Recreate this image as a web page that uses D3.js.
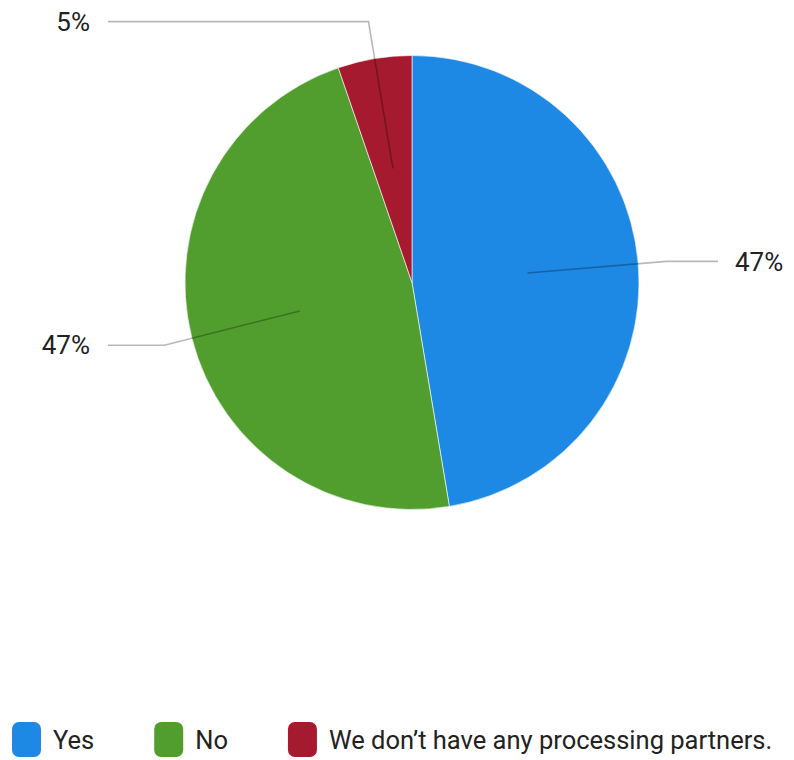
<!DOCTYPE html>
<html>
<head>
<meta charset="utf-8">
<script src="https://cdn.jsdelivr.net/npm/d3@7"></script>
<style>
  html, body { margin: 0; padding: 0; background: #fff; }
  svg { display: block; }
  text { font-family: Roboto, "Liberation Sans", Arial, sans-serif; fill: #222; }
</style>
</head>
<body>
<svg id="chart" width="794" height="760"></svg>
<script>
// Survey answers: does the company have processing partners?
const categories = ["Yes", "No", "We don\u2019t have any processing partners."];
const responses = [9, 9, 1];
const colors = ["#1e88e5", "#519e2f", "#a51a2e"];

const width = 794, height = 760;
const cx = 412, cy = 282.5, radius = 227;

const svg = d3.select("#chart");
const total = d3.sum(responses);
const data = categories.map((c, i) => ({ name: c, value: responses[i], color: colors[i] }));

const pie = d3.pie().value(d => d.value).sort(null);
const arcs = pie(data);
const arc = d3.arc().innerRadius(0).outerRadius(radius);

const g = svg.append("g").attr("transform", `translate(${cx},${cy})`);

g.selectAll("path.slice")
  .data(arcs)
  .join("path")
  .attr("class", "slice")
  .attr("d", arc)
  .attr("fill", d => d.data.color)
  .attr("stroke", "#ffffff")
  .attr("stroke-width", 0.6);

// Leader lines: from inside the slice, out past the rim, then horizontally to the label
const fmt = v => Math.round(v / total * 100) + "%";
const point = (a, r) => [Math.sin(a) * r, -Math.cos(a) * r];

arcs.forEach(d => {
  const mid = (d.startAngle + d.endAngle) / 2;
  const right = Math.sin(mid) > 0;
  // labels near the top of the pie sit a little further out
  const nearTop = Math.cos(mid) > 0.85;
  const p0 = point(mid, radius * 0.51);
  const p1 = point(mid, radius * (nearTop ? 1.165 : 1.125));
  const xEnd = right ? 306 : -304;
  const xText = right ? 323 : -322;

  g.append("path")
    .attr("d", d3.line()([p0, p1, [xEnd, p1[1]]]))
    .attr("fill", "none")
    .attr("stroke", "#000")
    .attr("stroke-opacity", 0.28)
    .attr("stroke-width", 1.6);

  g.append("text")
    .attr("x", xText)
    .attr("y", p1[1])
    .attr("dy", "0.35em")
    .attr("text-anchor", right ? "start" : "end")
    .attr("font-size", 26)
    .text(fmt(d.data.value));
});

// Legend along the bottom
const legend = svg.append("g").attr("transform", "translate(12,722)");
let x = 0;
data.forEach(d => {
  const item = legend.append("g").attr("transform", `translate(${x},0)`);
  item.append("rect")
    .attr("width", 29).attr("height", 35).attr("rx", 7)
    .attr("fill", d.color);
  const t = item.append("text")
    .attr("x", 41).attr("y", 18).attr("dy", "0.35em")
    .attr("font-size", 25.5)
    .text(d.name);
  x += 41 + t.node().getComputedTextLength() + 60;
});
</script>
</body>
</html>
